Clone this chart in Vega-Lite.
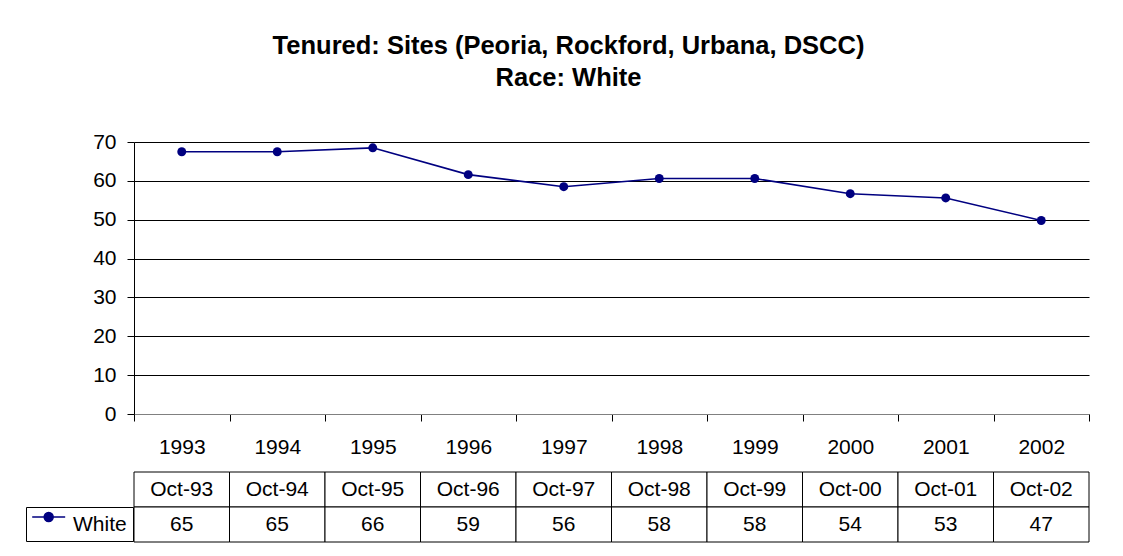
{
  "$schema": "https://vega.github.io/schema/vega-lite/v6.json",
  "background": "white",
  "autosize": {"type": "pad"},
  "padding": {"left": 25, "top": 33, "right": 10, "bottom": 5},
  "title": {
    "text": ["Tenured: Sites (Peoria, Rockford, Urbana, DSCC)", "Race: White"],
    "font": "Liberation Sans, Arial, sans-serif",
    "fontSize": 25.5,
    "fontWeight": "bold",
    "color": "black",
    "anchor": "middle",
    "lineHeight": 32,
    "offset": 40,
    "dx": 11
  },
  "datasets": {
    "d": [
      {"year": "1993", "period": "Oct-93", "series": "White", "white": 65, "plotted": 67.5},
      {"year": "1994", "period": "Oct-94", "series": "White", "white": 65, "plotted": 67.5},
      {"year": "1995", "period": "Oct-95", "series": "White", "white": 66, "plotted": 68.5},
      {"year": "1996", "period": "Oct-96", "series": "White", "white": 59, "plotted": 61.6},
      {"year": "1997", "period": "Oct-97", "series": "White", "white": 56, "plotted": 58.5},
      {"year": "1998", "period": "Oct-98", "series": "White", "white": 58, "plotted": 60.6},
      {"year": "1999", "period": "Oct-99", "series": "White", "white": 58, "plotted": 60.6},
      {"year": "2000", "period": "Oct-00", "series": "White", "white": 54, "plotted": 56.7},
      {"year": "2001", "period": "Oct-01", "series": "White", "white": 53, "plotted": 55.6},
      {"year": "2002", "period": "Oct-02", "series": "White", "white": 47, "plotted": 49.8}
    ]
  },
  "bounds": "flush",
  "spacing": 58,
  "resolve": {"legend": {"color": "independent"}},
  "vconcat": [
    {
      "width": 955,
      "height": 272,
      "data": {"name": "d"},
      "encoding": {
        "x": {
          "field": "year", "type": "nominal", "sort": null,
          "scale": {"type": "band", "paddingInner": 0, "paddingOuter": 0},
          "axis": {"title": null, "tickBand": "extent", "tickSize": 7, "tickColor": "black", "domainColor": "#808080", "labelFontSize": 21, "labelColor": "black", "labelPadding": 15, "labelAngle": 0, "grid": false}
        },
        "y": {
          "field": "plotted", "type": "quantitative",
          "scale": {"domain": [0, 70], "nice": false},
          "axis": {"title": null, "values": [0, 10, 20, 30, 40, 50, 60, 70], "grid": true, "gridColor": "black", "gridOpacity": 1, "tickSize": 7, "tickColor": "black", "domainColor": "black", "labelFontSize": 21, "labelColor": "black", "labelPadding": 11}
        }
      },
      "layer": [
        {"mark": {"type": "line", "color": "#000080", "strokeWidth": 1.6}},
        {
          "mark": {"type": "point", "filled": true, "size": 80, "opacity": 1},
          "encoding": {
            "color": {
              "field": "series", "type": "nominal",
              "scale": {"range": ["#000080"]},
              "legend": {
                "title": null, "orient": "none", "legendX": -108, "legendY": 365,
                "strokeColor": "black", "padding": 6,
                "symbolType": "M-1.077,-0.714H2.065M0.065,-0.714A0.429,0.429 0 1,0 0.923,-0.714A0.429,0.429 0 1,0 0.065,-0.714Z",
                "symbolSize": 441, "symbolStrokeWidth": 1.5,
                "symbolStrokeColor": "#000080", "symbolFillColor": "#000080",
                "labelFontSize": 21, "labelColor": "black", "labelOffset": 18,
                "labelFont": "Liberation Sans, Arial, sans-serif"
              }
            }
          }
        }
      ]
    },
    {
      "width": 955,
      "height": 70,
      "data": {"name": "d"},
      "transform": [{"fold": ["period", "white"], "as": ["row", "cell"]}],
      "encoding": {
        "x": {"field": "year", "type": "nominal", "sort": null, "scale": {"type": "band", "paddingInner": 0, "paddingOuter": 0}, "axis": null},
        "y": {"field": "row", "type": "nominal", "scale": {"type": "band", "domain": ["period", "white"], "paddingInner": 0, "paddingOuter": 0}, "axis": null}
      },
      "layer": [
        {"mark": {"type": "rect", "fill": "white", "stroke": "black", "strokeWidth": 1}},
        {"mark": {"type": "text", "fontSize": 21, "color": "black"}, "encoding": {"text": {"field": "cell", "type": "nominal"}}}
      ]
    }
  ],
  "config": {
    "view": {"stroke": null},
    "font": "Liberation Sans, Arial, sans-serif",
    "axis": {"labelFont": "Liberation Sans, Arial, sans-serif"},
    "text": {"font": "Liberation Sans, Arial, sans-serif"}
  }
}
